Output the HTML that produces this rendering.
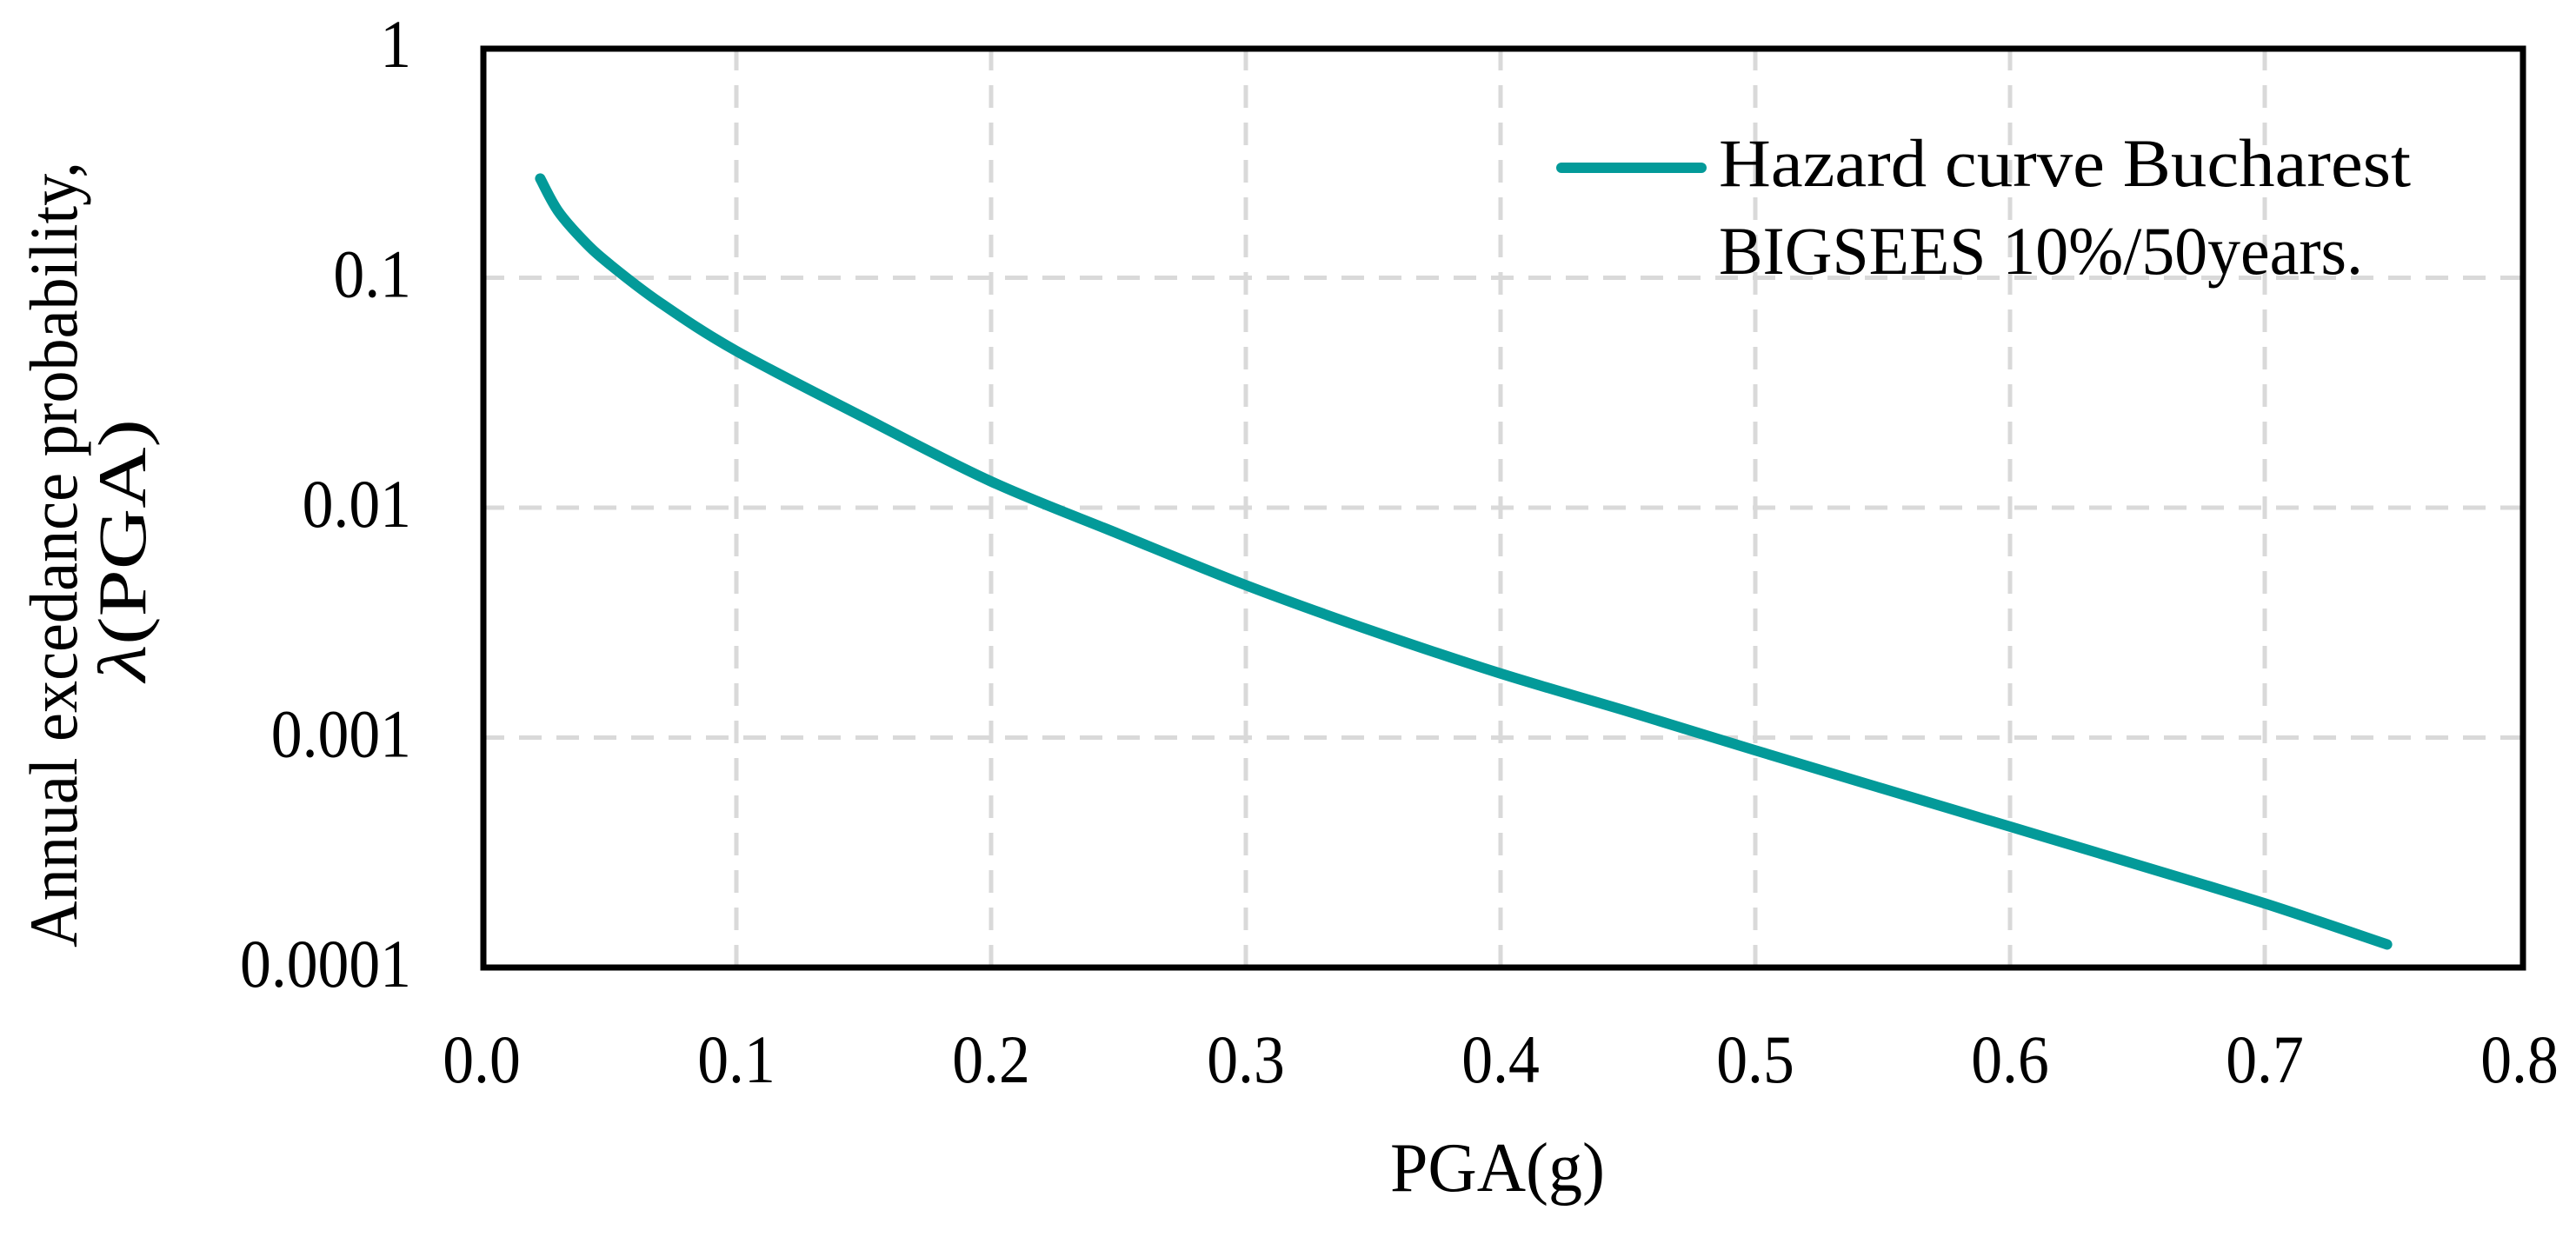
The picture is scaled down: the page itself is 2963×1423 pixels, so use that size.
<!DOCTYPE html>
<html><head><meta charset="utf-8"><style>
html,body{margin:0;padding:0;background:#fff;}
svg{display:block;font-family:"Liberation Serif",serif;}
</style></head><body>
<svg id="chart" width="2963" height="1423" viewBox="0 0 2963 1423" xmlns="http://www.w3.org/2000/svg">
<g id="grid"></g>
<g id="yticks"></g>
<g id="xticks"></g>
<path id="curve" fill="none" stroke="#039a99" stroke-width="12" stroke-linecap="round" stroke-linejoin="round"/>
<rect x="556" y="56" width="2346" height="1057" fill="none" stroke="#000" stroke-width="7"/>
<g>
<line x1="1796" y1="193" x2="1957" y2="193" stroke="#039a99" stroke-width="12" stroke-linecap="round"/>
<text x="1977" y="214" font-size="78" textLength="796" lengthAdjust="spacingAndGlyphs">Hazard curve Bucharest</text>
<text x="1977" y="315" font-size="78" textLength="741" lengthAdjust="spacingAndGlyphs">BIGSEES 10%/50years.</text>
</g>
<text x="1599" y="1370" font-size="80" textLength="247" lengthAdjust="spacingAndGlyphs">PGA(g)</text>
<g>
<text transform="translate(88,638) rotate(-90)" font-size="78" text-anchor="middle" textLength="904" lengthAdjust="spacingAndGlyphs">Annual excedance probability,</text>
<text transform="translate(167,633) rotate(-90)" font-size="78" text-anchor="middle" textLength="302" lengthAdjust="spacingAndGlyphs"><tspan font-style="italic">λ</tspan>(PGA)</text>
</g>
</svg>
<script>
const xTickValues=[0,0.1,0.2,0.3,0.4,0.5,0.6,0.7,0.8];
const xTickLabels=["0.0","0.1","0.2","0.3","0.4","0.5","0.6","0.7","0.8"];
const yTickValues=[1,0.1,0.01,0.001,0.0001];
const yTickLabels=["1","0.1","0.01","0.001","0.0001"];
const pga=[0.023,0.03,0.04,0.05,0.07,0.1,0.15,0.2,0.25,0.3,0.35,0.4,0.45,0.5,0.55,0.6,0.65,0.7,0.748];
const lambda=[0.27,0.195,0.145,0.115,0.078,0.048,0.0247,0.013,0.0077,0.0046,0.0029,0.0019,0.0013,0.00088,0.0006,0.00041,0.00028,0.00019,0.000126];

const X0=554,X1=2898,Y0=55,Y1=1113;
function xs(v){return X0+(v-0)/(0.8-0)*(X1-X0);}
function ys(v){return Y0+(0-Math.log10(v))/4*(Y1-Y0);}
function labelWidth(s){let w=0;for(const c of s){w+=(c==='.')?18:35.8;}return w;}
const NS='http://www.w3.org/2000/svg';
const grid=document.getElementById('grid');
xTickValues.forEach((v,i)=>{
  if(i>0&&i<xTickValues.length-1){
    const l=document.createElementNS(NS,'line');
    
    
    l.setAttribute('x1',xs(v));l.setAttribute('x2',xs(v));
    l.setAttribute('y1',Y0);l.setAttribute('y2',Y1);
    l.setAttribute('stroke','#d9d9d9');l.setAttribute('stroke-width','5');
    l.setAttribute('stroke-dasharray','26 17');
    grid.appendChild(l);
  }
  const t=document.createElementNS(NS,'text');
  
  
  t.setAttribute('x',xs(v));t.setAttribute('y',1245);
  t.setAttribute('font-size','78');t.setAttribute('text-anchor','middle');
  t.setAttribute('textLength',labelWidth(xTickLabels[i]));
  t.setAttribute('lengthAdjust','spacingAndGlyphs');
  t.textContent=xTickLabels[i];
  document.getElementById('xticks').appendChild(t);
});
yTickValues.forEach((v,i)=>{
  if(i>0&&i<yTickValues.length-1){
    const l=document.createElementNS(NS,'line');
    
    
    l.setAttribute('x1',X0);l.setAttribute('x2',2902);
    l.setAttribute('y1',ys(v));l.setAttribute('y2',ys(v));
    l.setAttribute('stroke','#d9d9d9');l.setAttribute('stroke-width','5');
    l.setAttribute('stroke-dasharray','26 17');
    grid.appendChild(l);
  }
  const t=document.createElementNS(NS,'text');
  
  
  t.setAttribute('x',473);t.setAttribute('y',ys(v)+22);
  t.setAttribute('font-size','78');t.setAttribute('text-anchor','end');
  t.setAttribute('textLength',labelWidth(yTickLabels[i]));
  t.setAttribute('lengthAdjust','spacingAndGlyphs');
  t.textContent=yTickLabels[i];
  document.getElementById('yticks').appendChild(t);
});
const pts=pga.map((p,i)=>[xs(p),ys(lambda[i])]);
let d='M'+pts[0][0]+','+pts[0][1];
for(let i=0;i<pts.length-1;i++){
  const p0=pts[Math.max(0,i-1)],p1=pts[i],p2=pts[i+1],p3=pts[Math.min(pts.length-1,i+2)];
  const c1=[p1[0]+(p2[0]-p0[0])/6,p1[1]+(p2[1]-p0[1])/6];
  const c2=[p2[0]-(p3[0]-p1[0])/6,p2[1]-(p3[1]-p1[1])/6];
  d+=' C'+c1[0]+','+c1[1]+' '+c2[0]+','+c2[1]+' '+p2[0]+','+p2[1];
}
document.getElementById('curve').setAttribute('d',d);
</script>
</body></html>
